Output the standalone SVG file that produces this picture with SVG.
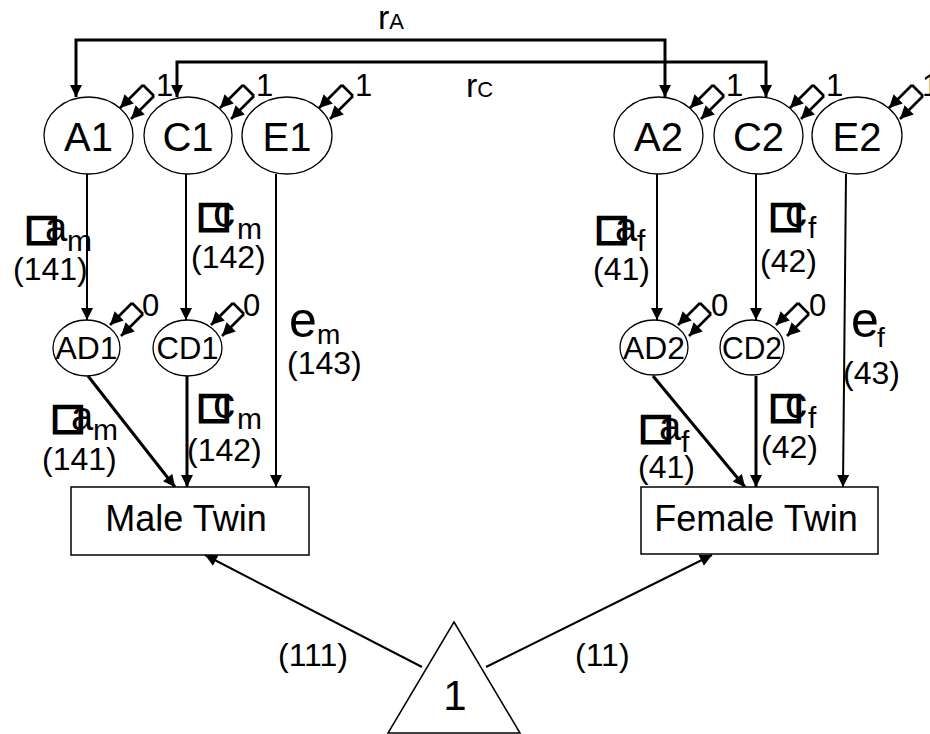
<svg xmlns="http://www.w3.org/2000/svg" xmlns:xlink="http://www.w3.org/1999/xlink" width="930" height="734" viewBox="0 0 930 734">
<style>
text{font-family:"Liberation Sans",Arial,sans-serif;fill:#000}
.lat{fill:#fff;stroke:#000;stroke-width:1.3}
.big{font-size:40px}
.mid{font-size:32px}
.num{font-size:32px}
.var{font-size:31px}
.box{font-family:"DejaVu Sans",sans-serif;font-size:36px;stroke:#000;stroke-width:2.6}
.ln{stroke:#000;stroke-width:2;fill:none}
.lnb{stroke:#000;stroke-width:3;fill:none}
.vl{stroke:#000;stroke-width:2.6;fill:none}
</style>
<defs>
<marker id="ah" viewBox="0 0 12 12" refX="12" refY="6" markerWidth="13" markerHeight="12" markerUnits="userSpaceOnUse" orient="auto-start-reverse"><path d="M0,0 L12,6 L0,12 z" fill="#000"/></marker>
<marker id="ahs" viewBox="0 0 12 12" refX="12" refY="6" markerWidth="14" markerHeight="13" markerUnits="userSpaceOnUse" orient="auto"><path d="M0,0 L12,6 L0,12 z" fill="#000"/></marker>
<g id="v1" class="vl"><path d="M55,-51 L66,-40"/><line x1="55" y1="-51" x2="32" y2="-28" marker-end="url(#ahs)"/><line x1="66" y1="-40" x2="43" y2="-17" marker-end="url(#ahs)"/></g>
<g id="v0" class="vl"><path d="M46,-45 L57,-34"/><line x1="46" y1="-45" x2="24" y2="-23" marker-end="url(#ahs)"/><line x1="57" y1="-34" x2="35" y2="-12" marker-end="url(#ahs)"/></g>
</defs>

<g id="connectors">
<path class="lnb" d="M76,97 L76,40 L665,40 L665,97" marker-start="url(#ah)" marker-end="url(#ah)"/>
<path class="lnb" d="M177,97 L177,62 L766,62 L766,97" marker-start="url(#ah)" marker-end="url(#ah)"/>
<line class="ln" x1="87" y1="174" x2="87" y2="320" marker-end="url(#ah)"/>
<line class="ln" x1="186" y1="174" x2="186" y2="320" marker-end="url(#ah)"/>
<line class="ln" x1="276" y1="174" x2="276" y2="487" marker-end="url(#ah)"/>
<line class="lnb" x1="88" y1="376" x2="175" y2="487" marker-end="url(#ah)"/>
<line class="lnb" x1="187" y1="376" x2="187" y2="487" marker-end="url(#ah)"/>
<line class="ln" x1="657" y1="174" x2="657" y2="320" marker-end="url(#ah)"/>
<line class="ln" x1="756" y1="174" x2="756" y2="320" marker-end="url(#ah)"/>
<line class="ln" x1="846" y1="174" x2="843" y2="487" marker-end="url(#ah)"/>
<line class="lnb" x1="653" y1="376" x2="745" y2="487" marker-end="url(#ah)"/>
<line class="lnb" x1="756" y1="376" x2="756" y2="487" marker-end="url(#ah)"/>
<line class="ln" x1="422" y1="667" x2="205" y2="555" marker-end="url(#ah)"/>
<line class="ln" x1="486" y1="667" x2="712" y2="555" marker-end="url(#ah)"/>
<text x="378" y="29"><tspan font-size="34">r</tspan><tspan font-size="22">A</tspan></text>
<text x="466" y="97"><tspan font-size="34">r</tspan><tspan font-size="22">C</tspan></text>
<text x="25" y="240"><tspan class="box">□</tspan></text><text x="45" y="241" font-size="40">a</text><text x="67" y="251" font-size="30">m</text>
<text class="num" x="13" y="280">(141)</text>
<text x="197" y="227"><tspan class="box">□</tspan></text><text x="213" y="227" font-size="44">c</text><text x="237" y="239" font-size="30">m</text>
<text class="num" x="191" y="268">(142)</text>
<text x="289" y="337" font-size="50">e</text><text x="317" y="344" font-size="28">m</text>
<text class="num" x="287" y="374">(143)</text>
<text x="51" y="429"><tspan class="box">□</tspan></text><text x="71" y="430" font-size="40">a</text><text x="93" y="440" font-size="30">m</text>
<text class="num" x="42" y="470">(141)</text>
<text x="197" y="418"><tspan class="box">□</tspan></text><text x="213" y="418" font-size="44">c</text><text x="237" y="429" font-size="30">m</text>
<text class="num" x="187" y="461">(142)</text>
<text x="595" y="240"><tspan class="box">□</tspan></text><text x="615" y="241" font-size="40">a</text><text x="637" y="251" font-size="30">f</text>
<text class="num" x="593" y="280">(41)</text>
<text x="769" y="227"><tspan class="box">□</tspan></text><text x="785" y="227" font-size="44">c</text><text x="808" y="238" font-size="30">f</text>
<text class="num" x="760" y="272">(42)</text>
<text x="851" y="337" font-size="50">e</text><text x="877" y="347" font-size="28">f</text>
<text class="num" x="843" y="384">(43)</text>
<text x="639" y="439"><tspan class="box">□</tspan></text><text x="659" y="440" font-size="40">a</text><text x="681" y="452" font-size="30">f</text>
<text class="num" x="638" y="478">(41)</text>
<text x="769" y="418"><tspan class="box">□</tspan></text><text x="785" y="418" font-size="44">c</text><text x="808" y="428" font-size="30">f</text>
<text class="num" x="761" y="458">(42)</text>
<text class="num" x="278" y="666">(111)</text>
<text class="num" x="575" y="666">(11)</text>
</g>

<g id="A1"><ellipse class="lat" cx="88.5" cy="135.5" rx="44.5" ry="38.5"/><text class="big" x="88.5" y="151" text-anchor="middle">A1</text><use xlink:href="#v1" x="88" y="136"/><text class="var" x="156" y="96">1</text></g>
<g id="C1"><ellipse class="lat" cx="188" cy="135.5" rx="44" ry="38.5"/><text class="big" x="188" y="151" text-anchor="middle">C1</text><use xlink:href="#v1" x="188" y="136"/><text class="var" x="256" y="96">1</text></g>
<g id="E1"><ellipse class="lat" cx="287" cy="135.5" rx="45" ry="38.5"/><text class="big" x="287" y="151" text-anchor="middle">E1</text><use xlink:href="#v1" x="287" y="136"/><text class="var" x="355" y="96">1</text></g>
<g id="A2"><ellipse class="lat" cx="658.5" cy="135.5" rx="44.5" ry="38.5"/><text class="big" x="658.5" y="151" text-anchor="middle">A2</text><use xlink:href="#v1" x="658" y="136"/><text class="var" x="726" y="96">1</text></g>
<g id="C2"><ellipse class="lat" cx="758.5" cy="135.5" rx="44.5" ry="38.5"/><text class="big" x="758.5" y="151" text-anchor="middle">C2</text><use xlink:href="#v1" x="758" y="136"/><text class="var" x="826" y="96">1</text></g>
<g id="E2"><ellipse class="lat" cx="857" cy="135.5" rx="45" ry="38.5"/><text class="big" x="857" y="151" text-anchor="middle">E2</text><use xlink:href="#v1" x="857" y="136"/><text class="var" x="922" y="96">1</text></g>

<g id="AD1"><ellipse class="lat" cx="86.5" cy="348" rx="33.5" ry="28"/><text class="mid" x="86.5" y="359" text-anchor="middle" textLength="62" lengthAdjust="spacingAndGlyphs">AD1</text><use xlink:href="#v0" x="86" y="348"/><text class="var" x="142" y="316">0</text></g>
<g id="CD1"><ellipse class="lat" cx="187.5" cy="348" rx="34.5" ry="28"/><text class="mid" x="187.5" y="359" text-anchor="middle" textLength="62" lengthAdjust="spacingAndGlyphs">CD1</text><use xlink:href="#v0" x="187" y="348"/><text class="var" x="243" y="316">0</text></g>
<g id="AD2"><ellipse class="lat" cx="654" cy="347.5" rx="34" ry="27.5"/><text class="mid" x="654" y="359" text-anchor="middle" textLength="62" lengthAdjust="spacingAndGlyphs">AD2</text><use xlink:href="#v0" x="654" y="348"/><text class="var" x="711" y="316">0</text></g>
<g id="CD2"><ellipse class="lat" cx="752" cy="347.5" rx="32" ry="27.5"/><text class="mid" x="752" y="359" text-anchor="middle" textLength="60" lengthAdjust="spacingAndGlyphs">CD2</text><use xlink:href="#v0" x="752" y="348"/><text class="var" x="809" y="316">0</text></g>

<g id="MaleTwin"><rect x="71" y="487" width="238" height="68" fill="#fff" stroke="#000" stroke-width="1.5"/><text x="186" y="531" font-size="36" text-anchor="middle">Male Twin</text></g>
<g id="FemaleTwin"><rect x="641" y="487" width="237" height="67" fill="#fff" stroke="#000" stroke-width="1.5"/><text x="756" y="531" font-size="36" text-anchor="middle">Female Twin</text></g>
<g id="Mean"><path d="M454,622 L520,733 L388,733 Z" fill="#fff" stroke="#000" stroke-width="1.5"/><text x="455" y="710" font-size="42" text-anchor="middle">1</text></g>
</svg>
